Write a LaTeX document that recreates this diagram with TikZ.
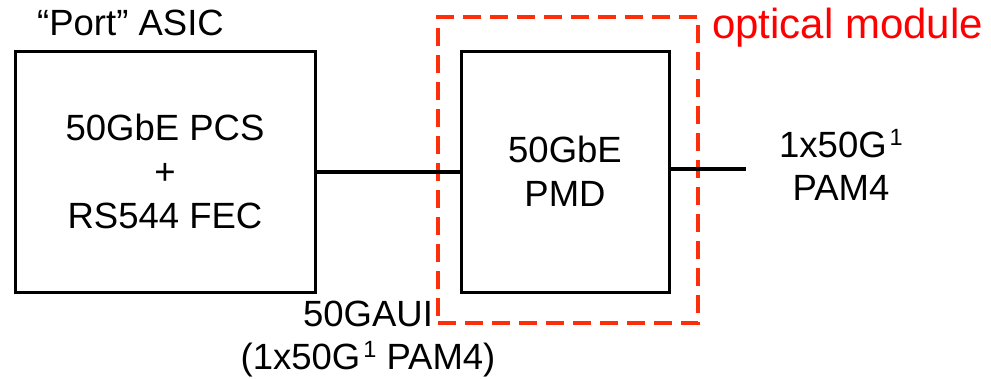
\documentclass[tikz,border=0pt]{standalone}
\usepackage{fontspec}
\setmainfont{Liberation Sans}
\usetikzlibrary{positioning}
\definecolor{modulered}{HTML}{FF2E0A}
\definecolor{labelred}{HTML}{FF0000}
\newcommand{\supnum}[1]{\kern3pt\raisebox{12pt}{\fontsize{23.5}{24}\selectfont #1}}
\tikzset{
    blockbox/.style={
        rectangle, draw=black, line width=3pt,
        minimum height=241pt, inner sep=0pt,
        font=\fontsize{36.5}{44}\selectfont, align=center
    },
    modulebox/.style={
        rectangle, draw=modulered, line width=4pt,
        dash pattern=on 18pt off 9pt, inner sep=0pt
    },
    textlab/.style={
        font=\fontsize{36.5}{43}\selectfont, inner sep=0pt, align=center
    },
    wire/.style={
        line width=4pt, color=black
    },
}

\begin{document}
\begin{tikzpicture}[x=1pt, y=-1pt]
    \useasboundingbox (0,0) rectangle (991,378);

    % dashed module outline
    \node[modulebox, minimum width=260pt, minimum height=306pt] (module) at (568,170) {};

    % blocks
    \node[blockbox, minimum width=300pt] (asic) at (165,171.5) {50GbE PCS\\+\\RS544 FEC};
    \node[blockbox, minimum width=208pt] (pmd) at (565,171.5) {50GbE\\PMD};
    \coordinate (fiber) at (746,169);

    % connectors
    \draw[wire] (asic.east) -- (pmd.west);
    \draw[wire] (pmd.east |- fiber) -- (fiber);

    % labels
    \node[textlab, anchor=base west] (asiclab) at (37,35) {“Port” ASIC};
    \node[textlab, anchor=base west, text=labelred, font=\fontsize{42}{48}\selectfont] (modulelab) at (712,38) {optical module};
    \node[textlab] (fiberlab) at (841,164.5) {1x50G\supnum{1}\\PAM4};
    \node[textlab] (auilab) at (368,339.5) {50GAUI\\(1x50G\supnum{1} PAM4)};
\end{tikzpicture}
\end{document}
